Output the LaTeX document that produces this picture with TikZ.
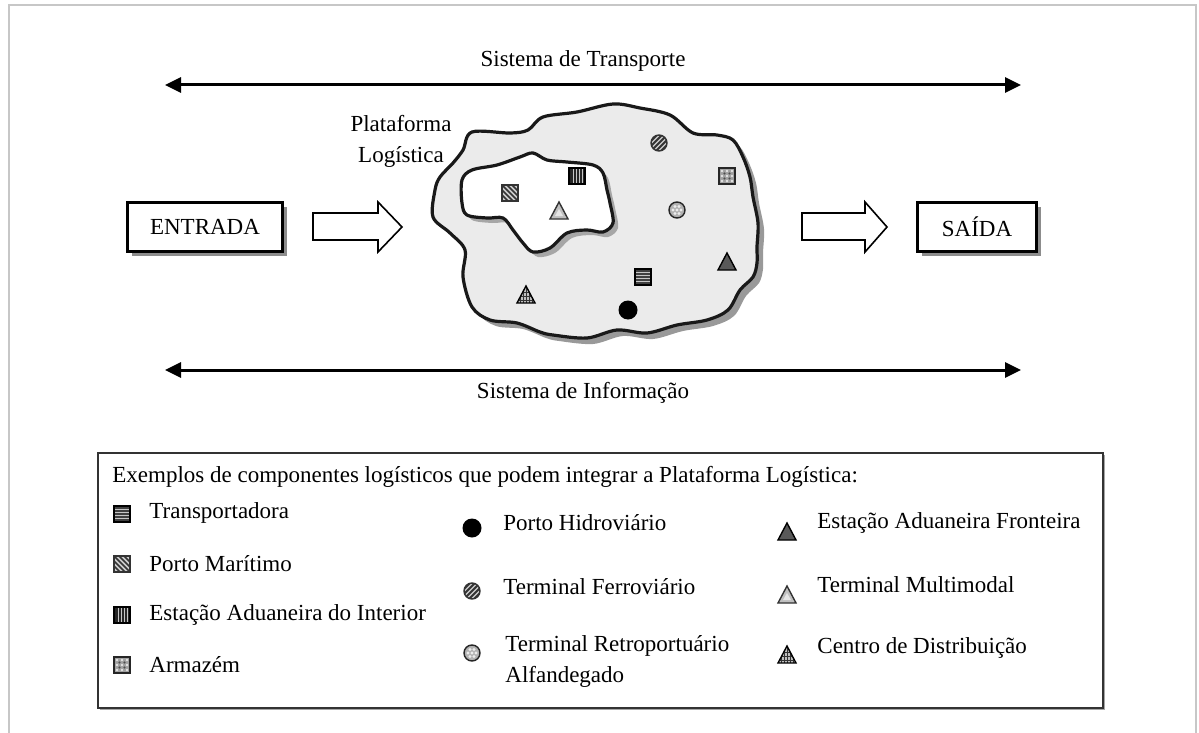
\documentclass[tikz,border=0pt]{standalone}
\usepackage{fontspec}
\setmainfont{Liberation Serif}
\usetikzlibrary{arrows.meta,shadows}

\tikzset{
  lbl/.style={font=\fontsize{11.5}{15.5}\selectfont, inner sep=0pt},
  bigarrow/.style={line width=1.5pt,
    {Triangle[length=8pt,width=7.5pt]}-{Triangle[length=8pt,width=7.5pt]}},
  iobox/.style={draw, line width=1.2pt, fill=white, inner sep=0pt,
    font=\fontsize{11.5}{13}\selectfont,
    drop shadow={shadow xshift=2pt, shadow yshift=-2pt, fill=black!45, opacity=1}},
  hollow/.style={draw, line width=0.8pt, fill=white, line join=miter},
  edge/.style={line width=1.6pt, draw=black!90},
  % legend / platform symbols
  sqH/.pic={
    \fill[black!75] (-8,-8) rectangle (8,8);
    \foreach \yy in {-4.5,-1.5,1.5,4.5} \draw[gray!45, line width=0.5pt] (-7,\yy) -- (7,\yy);
    \draw[black, line width=0.6pt] (-8,-8) rectangle (8,8);
  },
  sqD/.pic={
    \fill[gray!40] (-8,-8) rectangle (8,8);
    \begin{scope}
      \clip (-8,-8) rectangle (8,8);
      \foreach \k in {-20,-15,...,20} \draw[black!80, line width=0.8pt] (\k-8,-8) -- (\k+8,8);
    \end{scope}
    \draw[black!80, line width=0.6pt] (-8,-8) rectangle (8,8);
  },
  sqV/.pic={
    \fill[black!85] (-8,-8) rectangle (8,8);
    \foreach \xx in {-4,-1,2,5} \draw[gray!45, line width=0.5pt] (\xx,-7) -- (\xx,7);
    \draw[black, line width=0.6pt] (-8,-8) rectangle (8,8);
  },
  sqC/.pic={
    \fill[gray!75] (-8,-8) rectangle (8,8);
    \foreach \xx in {-5,0,5} \foreach \yy in {-5,0,5}
      \fill[white!80!gray] (\xx,\yy) circle (1.4);
    \foreach \xx in {-2.5,2.5} \foreach \yy in {-2.5,2.5}
      \fill[black!70] (\xx,\yy) circle (1.2);
    \draw[black!85, line width=0.6pt] (-8,-8) rectangle (8,8);
  },
  cirB/.pic={
    \fill[black] (0,0) circle (9.5);
  },
  cirH/.pic={
    \fill[gray!40] (0,0) circle (8);
    \begin{scope}
      \clip (0,0) circle (8);
      \foreach \k in {-20,-15,...,20} \draw[black!80, line width=0.9pt] (\k-8,8) -- (\k+8,-8);
    \end{scope}
    \draw[black!80, line width=0.7pt] (0,0) circle (8);
  },
  cirD/.pic={
    \fill[gray!60] (0,0) circle (8);
    \foreach \a in {0,60,...,300} \fill[white!85!gray] (\a:4) circle (1.6);
    \fill[white!85!gray] (0,0) circle (1.6);
    \draw[black!85, line width=0.7pt] (0,0) circle (8);
  },
  triF/.pic={
    \filldraw[fill=black!65, draw=black, line width=0.7pt, line join=miter]
      (0,-9) -- (9,8) -- (-9,8) -- cycle;
  },
  triM/.pic={
    \filldraw[fill=gray!50, draw=black!80, line width=0.7pt, line join=miter]
      (0,-9) -- (9,8) -- (-9,8) -- cycle;
    \fill[gray!20] (0,-2) -- (4,5) -- (-4,5) -- cycle;
  },
  triC/.pic={
    \fill[gray!50] (0,-9) -- (9,8) -- (-9,8) -- cycle;
    \begin{scope}
      \clip (0,-9) -- (9,8) -- (-9,8) -- cycle;
      \foreach \xx in {-6,-3,...,6} \draw[black!80, line width=0.4pt] (\xx,-9) -- (\xx,8);
      \foreach \yy in {-3,1,5} \draw[black!80, line width=0.4pt] (-9,\yy) -- (9,\yy);
    \end{scope}
    \draw[black, line width=0.7pt, line join=miter] (0,-9) -- (9,8) -- (-9,8) -- cycle;
  }
}

\begin{document}
\begin{tikzpicture}[x=0.5pt,y=-0.5pt]
\useasboundingbox (0,0) rectangle (1199,733);

% page frame
\draw[black!22, line width=1pt] (9,745) -- (9,5) -- (1196,5) -- (1196,745);

% transport and information systems
\coordinate (tl) at (165,85);
\coordinate (tr) at (1021,85);
\draw[bigarrow] (tl) -- (tr);
\node[lbl] (transp) at (583,61) {Sistema de Transporte};

\coordinate (bl) at (165,370);
\coordinate (br) at (1021,370);
\draw[bigarrow] (bl) -- (br);
\node[lbl] (info) at (583,393) {Sistema de Informação};

% input and output
\node[iobox, minimum width=77.5pt, minimum height=24.5pt] (entrada) at (205,227) {ENTRADA};
\node[iobox, minimum width=59.5pt, minimum height=24.5pt] (saida) at (977,227) {SAÍDA};

% block arrows
\draw[hollow] (313,213) -- (378,213) -- (378,202) -- (402,227) -- (378,252)
  -- (378,240) -- (313,240) -- cycle;
\draw[hollow] (802,213) -- (865,213) -- (865,202) -- (887,227) -- (865,252)
  -- (865,240) -- (802,240) -- cycle;

\node[lbl, align=center] (plat) at (401,141) {Plataforma\\Logística};

% logistics platform
\def\outerblob{plot[smooth cycle, tension=0.55] coordinates {
  (472,132) (510,133) (528,130) (543,117) (577,112) (613,104) (640,108)
  (670,115) (693,133) (717,135) (733,140) (743,157) (750,177) (753,197)
  (758,223) (757,247) (757,263) (753,277) (740,290) (728,310) (707,320)
  (677,325) (647,333) (617,330) (587,338) (553,335) (540,332) (517,323)
  (490,320) (472,307) (463,277) (465,250) (450,233) (433,217) (435,190)
  (440,177) (453,163) (463,150)}}
\def\innerblob{plot[smooth cycle, tension=0.55] coordinates {
  (462,180) (472,170) (497,165) (520,157) (533,153) (547,160) (567,162)
  (593,165) (603,173) (607,190) (610,203) (613,223) (603,232) (587,230)
  (567,233) (550,248) (533,252) (523,243) (513,230) (503,218) (487,218)
  (467,215) (462,203)}}
\fill[black!40, xshift=3pt, yshift=-3pt] \outerblob;
\fill[black!8] \outerblob;
\draw[edge] \outerblob;
\fill[black!35, xshift=2.5pt, yshift=-2.5pt] \innerblob;
\fill[white] \innerblob;
\draw[edge] \innerblob;

\pic at (510,193) {sqD};
\pic at (577,176) {sqV};
\pic at (559,211) {triM};
\pic at (659,143) {cirH};
\pic at (727,176) {sqC};
\pic at (677,210) {cirD};
\pic at (727,262) {triF};
\pic at (643,277) {sqH};
\pic at (526,295) {triC};
\pic at (628,310) {cirB};

% legend
\draw[black!80, line width=0.9pt,
  drop shadow={shadow xshift=1pt, shadow yshift=-1pt, fill=black!35, opacity=1},
  fill=white] (98,453) rectangle (1103,708);
\node[lbl, anchor=west] (ltitle) at (112,477)
  {Exemplos de componentes logísticos que podem integrar a Plataforma Logística:};

\pic at (122,514) {sqH};
\node[lbl, anchor=west] (l1) at (149,513) {Transportadora};
\pic at (122,564) {sqD};
\node[lbl, anchor=west] (l2) at (149,564) {Porto Marítimo};
\pic at (122,615) {sqV};
\node[lbl, anchor=west] (l3) at (149,615) {Estação Aduaneira do Interior};
\pic at (122,665) {sqC};
\node[lbl, anchor=west] (l4) at (149,665) {Armazém};

\pic at (472,528) {cirB};
\node[lbl, anchor=west] (l5) at (503,523) {Porto Hidroviário};
\pic at (472,591) {cirH};
\node[lbl, anchor=west] (l6) at (503,587) {Terminal Ferroviário};
\pic at (472,653) {cirD};
\node[lbl, anchor=west, align=left] (l7) at (505,661) {Terminal Retroportuário\\Alfandegado};

\pic at (787,532) {triF};
\node[lbl, anchor=west] (l8) at (817,523) {Estação Aduaneira Fronteira};
\pic at (787,595) {triM};
\node[lbl, anchor=west] (l9) at (817,585) {Terminal Multimodal};
\pic at (787,655) {triC};
\node[lbl, anchor=west] (l10) at (817,648) {Centro de Distribuição};
\end{tikzpicture}
\end{document}
